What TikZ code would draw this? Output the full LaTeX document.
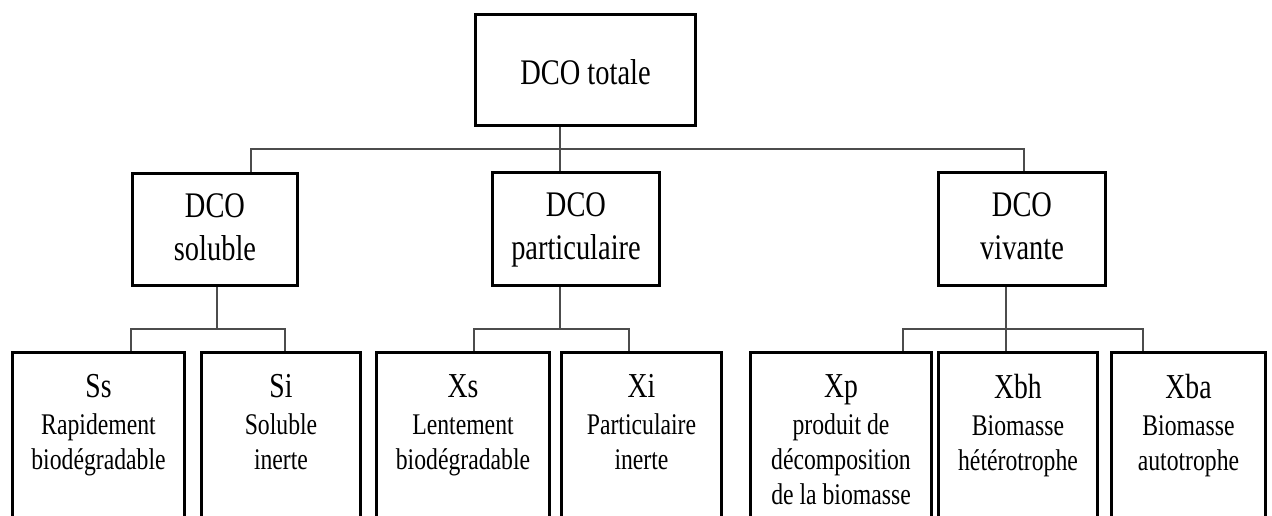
\documentclass[tikz,border=0pt]{standalone}
\usepackage{fontspec}
\setmainfont{Liberation Serif}[FakeStretch=0.79]
% symbol line of a leaf box, set a little larger than its description
\newcommand\boxhead[1]{{\fontsize{17.5pt}{17.5pt}\selectfont #1}\\[1pt]}
\begin{document}
\begin{tikzpicture}[x=0.5pt,y=-0.5pt,
  box/.style={draw=black, line width=1.5pt, inner sep=0pt, fill=white},
  bigtxt/.style={inner sep=0pt, align=center, anchor=north,
    font=\fontsize{18pt}{21.5pt}\selectfont},
  smalltxt/.style={inner sep=0pt, align=center, anchor=north,
    font=\fontsize{15pt}{17.5pt}\selectfont},
  conn/.style={draw=black!70, line width=1pt},
  label distance=0pt]
\useasboundingbox (0,0) rectangle (1272,515);
\clip (0,0) rectangle (1272,515);

% top level
\node[box, minimum width=110pt, minimum height=55.5pt,
  label={[bigtxt, yshift=-23.25pt]north:DCO totale}] (tot) at (585.5,70) {};

% second level
\node[box, minimum width=82.5pt, minimum height=56pt,
  label={[bigtxt, yshift=-10.75pt]north:DCO\\soluble}] (sol) at (215,229.5) {};
\node[box, minimum width=83.5pt, minimum height=56.5pt,
  label={[bigtxt, yshift=-10.75pt]north:DCO\\particulaire}] (par) at (576,229) {};
\node[box, minimum width=83.5pt, minimum height=56.5pt,
  label={[bigtxt, yshift=-10.75pt]north:DCO\\vivante}] (viv) at (1022,229) {};

% third level (boxes run past the lower edge)
\node[box, minimum width=86pt, minimum height=100pt,
  label={[smalltxt, yshift=-11.75pt]north:\boxhead{Ss}Rapidement\\biodégradable}] (ss) at (98.5,452) {};
\node[box, minimum width=79.5pt, minimum height=100pt,
  label={[smalltxt, yshift=-11.75pt]north:\boxhead{Si}Soluble\\inerte}] (si) at (281,452) {};
\node[box, minimum width=86.5pt, minimum height=100pt,
  label={[smalltxt, yshift=-11.75pt]north:\boxhead{Xs}Lentement\\biodégradable}] (xs) at (463,452) {};
\node[box, minimum width=80pt, minimum height=100pt,
  label={[smalltxt, yshift=-11.75pt]north:\boxhead{Xi}Particulaire\\inerte}] (xi) at (641.5,452) {};
\node[box, minimum width=90.5pt, minimum height=100pt,
  label={[smalltxt, yshift=-11.75pt]north:\boxhead{Xp}produit de\\décomposition\\de la biomasse}] (xp) at (841,452) {};
\node[box, minimum width=79.5pt, minimum height=100pt,
  label={[smalltxt, yshift=-11.75pt]north:\boxhead{Xbh}Biomasse\\hétérotrophe}] (xbh) at (1018,452) {};
\node[box, minimum width=77pt, minimum height=100pt,
  label={[smalltxt, yshift=-11.75pt]north:\boxhead{Xba}Biomasse\\autotrophe}] (xba) at (1188.5,452) {};

% bus under the top box
\coordinate (busL) at (251,149);
\coordinate (busM) at (560,149);
\coordinate (busR) at (1024,149);
\draw[conn] (busM |- tot.south) -- (busM |- par.north);
\draw[conn] (busL |- sol.north) -- (busL) -- (busR) -- (busR |- viv.north);

% soluble branch
\coordinate (solB) at (217,329);
\coordinate (ssT) at (131,329);
\coordinate (siT) at (285,329);
\draw[conn] (solB |- sol.south) -- (solB);
\draw[conn] (ssT |- ss.north) -- (ssT) -- (siT) -- (siT |- si.north);

% particulate branch
\coordinate (parB) at (560,329);
\coordinate (xsT) at (474,329);
\coordinate (xiT) at (629,329);
\draw[conn] (parB |- par.south) -- (parB);
\draw[conn] (xsT |- xs.north) -- (xsT) -- (xiT) -- (xiT |- xi.north);

% living biomass branch
\coordinate (xpT) at (903,329);
\coordinate (xbhT) at (1006,329);
\coordinate (xbaT) at (1143,329);
\draw[conn] (xbhT |- viv.south) -- (xbhT |- xbh.north);
\draw[conn] (xpT |- xp.north) -- (xpT) -- (xbaT) -- (xbaT |- xba.north);
\end{tikzpicture}
\end{document}
